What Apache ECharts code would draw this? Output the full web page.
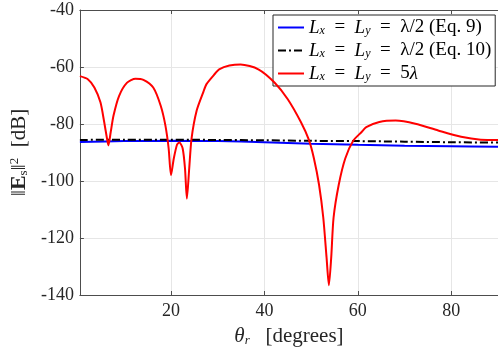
<!DOCTYPE html>
<html>
<head>
<meta charset="utf-8">
<script src="https://cdn.jsdelivr.net/npm/echarts@6/dist/echarts.min.js"></script>
<style>
  html, body { margin: 0; padding: 0; background: #fff; }
  #chart { width: 498px; height: 352px; }
</style>
</head>
<body>
<div id="chart"></div>
<script>
// red curve, L = 5 lambda (theta_r in degrees, dB)
var thetaRed = [0.5, 2.2, 3.6, 4.9, 5.7, 6.3, 6.6, 7.1, 7.7, 8.9, 10.6, 12.4, 14.1, 16.2, 17.8, 18.8, 19.5, 20.0,
	20.6, 21.3, 21.8, 22.5, 23.0, 23.4, 23.9, 24.4, 25.5, 26.9, 27.6, 29.5, 30.3, 32.5, 34.9, 38.7, 42.2, 45.0,
	47.8, 49.5, 50.6, 51.7, 52.6, 53.3, 53.8, 54.3, 54.8, 55.9, 57.3, 59.0, 60.8, 61.8, 64.6, 68.1, 72.3, 77.2,
	82.1, 86.3, 90];
var redDb = [-63.2, -64.3, -67.2, -72.4, -79.3, -85.1, -87.5, -82.8, -77.0, -70.1, -65.5, -64.1, -64.5, -67.2, -73.6, -80.5, -88.6, -97.9,
	-92.1, -87.2, -86.5, -88.6, -95.6, -106.2, -95.6, -85.1, -75.3, -68.9, -66.0, -62.2, -60.8, -59.5, -59.1, -60.8, -65.5, -71.3,
	-79.3, -85.5, -92.1, -101.4, -112.9, -126.8, -136.6, -126.8, -112.9, -101.4, -92.1, -85.9, -82.8, -81.1, -79.3, -78.8, -79.9, -82.3,
	-84.5, -85.5, -85.6];

// lambda/2 curves
var thetaHalf = [0.5, 10, 20, 30, 40, 50, 60, 70, 80, 90];
var blueDb = [-86.3, -86.0, -85.9, -86.0, -86.4, -86.9, -87.3, -87.6, -87.8, -88.0];
var blackDb = [-85.6, -85.5, -85.5, -85.6, -85.7, -85.9, -86.0, -86.2, -86.4, -86.5];

var yTicks = [-140, -120, -100, -80, -60, -40];

var legendNames = {
	eq9: '{i|L}{s|x}{t|  =  }{i|L}{s|y}{t|  =  λ/2 (Eq. 9)}',
	eq10: '{i|L}{s|x}{t|  =  }{i|L}{s|y}{t|  =  λ/2 (Eq. 10)}',
	big: '{i|L}{s|x}{t|  =  }{i|L}{s|y}{t|  =  5}{i|λ}'
};

function pairs(xs, ys) {
	var out = [];
	for (var i = 0; i < xs.length; i++) out.push([xs[i], ys[i]]);
	return out;
}

var serif = 'Liberation Serif';
var chart = echarts.init(document.getElementById('chart'));

var option = {
	animation: false,
	backgroundColor: '#fff',
	grid: { left: 71, top: 10, right: 0, bottom: 54 },
	legend: {
		orient: 'vertical',
		left: 273,
		top: 15,
		padding: [3, 4, 3, 4],
		itemGap: 4,
		itemWidth: 26,
		itemHeight: 14,
		backgroundColor: '#fff',
		borderColor: '#262626',
		borderWidth: 1,
		itemStyle: { opacity: 0 },
		data: ['eq9', 'eq10', 'big'],
		formatter: function (name) { return legendNames[name]; },
		textStyle: {
			fontFamily: serif,
			fontSize: 19,
			lineHeight: 18,
			color: '#000',
			rich: {
				i: { fontFamily: serif, fontStyle: 'italic', fontSize: 19, lineHeight: 18, color: '#000' },
				s: { fontFamily: serif, fontStyle: 'italic', fontSize: 12, lineHeight: 18, verticalAlign: 'bottom', padding: [6, 0, 0, 0], color: '#000' },
				t: { fontFamily: serif, fontSize: 19, lineHeight: 18, color: '#000' }
			}
		}
	},
	xAxis: [{
		type: 'value',
		min: 0.5,
		max: 90,
		minInterval: 20,
		maxInterval: 20,
		name: '{i|θ}{s|r}{t|   [degrees]}',
		nameLocation: 'middle',
		nameGap: 31,
		nameTextStyle: {
			rich: {
				i: { fontFamily: serif, fontStyle: 'italic', fontSize: 21, color: '#262626' },
				s: { fontFamily: serif, fontStyle: 'italic', fontSize: 13, verticalAlign: 'bottom', padding: [8, 0, 0, 0], color: '#262626' },
				t: { fontFamily: serif, fontSize: 21, color: '#262626' }
			}
		},
		axisLine: { lineStyle: { color: '#4d4d4d', width: 1 } },
		axisTick: { inside: true, length: 4, lineStyle: { color: '#4d4d4d' } },
		axisLabel: { showMinLabel: false, showMaxLabel: false, margin: 7, fontFamily: serif, fontSize: 18, color: '#262626' },
		splitLine: { show: true, lineStyle: { color: '#e6e6e6', width: 1 } }
	}, {
		type: 'value',
		position: 'top',
		min: 0.5,
		max: 90,
		minInterval: 20,
		maxInterval: 20,
		axisLine: { show: true, lineStyle: { color: '#4d4d4d', width: 1 } },
		axisTick: { show: true, inside: true, length: 4, lineStyle: { color: '#4d4d4d' } },
		axisLabel: { show: false },
		splitLine: { show: false }
	}],
	yAxis: {
		type: 'value',
		min: -140,
		max: -40,
		interval: 20,
		name: '{n|‖}{b|E}{s|s}{n|‖}{p|2}{t|  [dB]}',
		nameLocation: 'middle',
		nameRotate: 90,
		nameGap: 46,
		nameTextStyle: {
			rich: {
				n: { fontFamily: serif, fontSize: 22, color: '#262626' },
				b: { fontFamily: serif, fontWeight: 'bold', fontSize: 22, color: '#262626' },
				s: { fontFamily: serif, fontSize: 13, verticalAlign: 'bottom', padding: [9, 0, 0, 0], color: '#262626' },
				p: { fontFamily: serif, fontSize: 13, verticalAlign: 'top', padding: [0, 0, 9, 0], color: '#262626' },
				t: { fontFamily: serif, fontSize: 21, color: '#262626' }
			}
		},
		axisLine: { show: true, lineStyle: { color: '#4d4d4d', width: 1 } },
		axisTick: { show: true, inside: true, length: 4, lineStyle: { color: '#4d4d4d' } },
		axisLabel: {
			margin: 6, fontFamily: serif, fontSize: 18, color: '#262626',
			formatter: function (v) { return yTicks.indexOf(v) >= 0 ? String(v) : ''; }
		},
		splitLine: { show: true, lineStyle: { color: '#e6e6e6', width: 1 } }
	},
	series: [{
		name: 'eq9',
		type: 'line',
		symbol: 'none',
		smooth: 0.3,
		data: pairs(thetaHalf, blueDb),
		lineStyle: { color: '#0000ff', width: 2 },
		itemStyle: { color: '#0000ff' },
		z: 2
	}, {
		name: 'eq10',
		type: 'line',
		symbol: 'none',
		smooth: 0.3,
		data: pairs(thetaHalf, blackDb),
		lineStyle: { color: '#000', width: 2, type: [8, 3, 2, 3] },
		itemStyle: { color: '#000' },
		z: 3
	}, {
		name: 'big',
		type: 'line',
		symbol: 'none',
		smooth: 0.25,
		data: pairs(thetaRed, redDb),
		lineStyle: { color: '#ff0000', width: 2 },
		itemStyle: { color: '#ff0000' },
		z: 4
	}]
};

chart.setOption(option);
</script>
</body>
</html>
